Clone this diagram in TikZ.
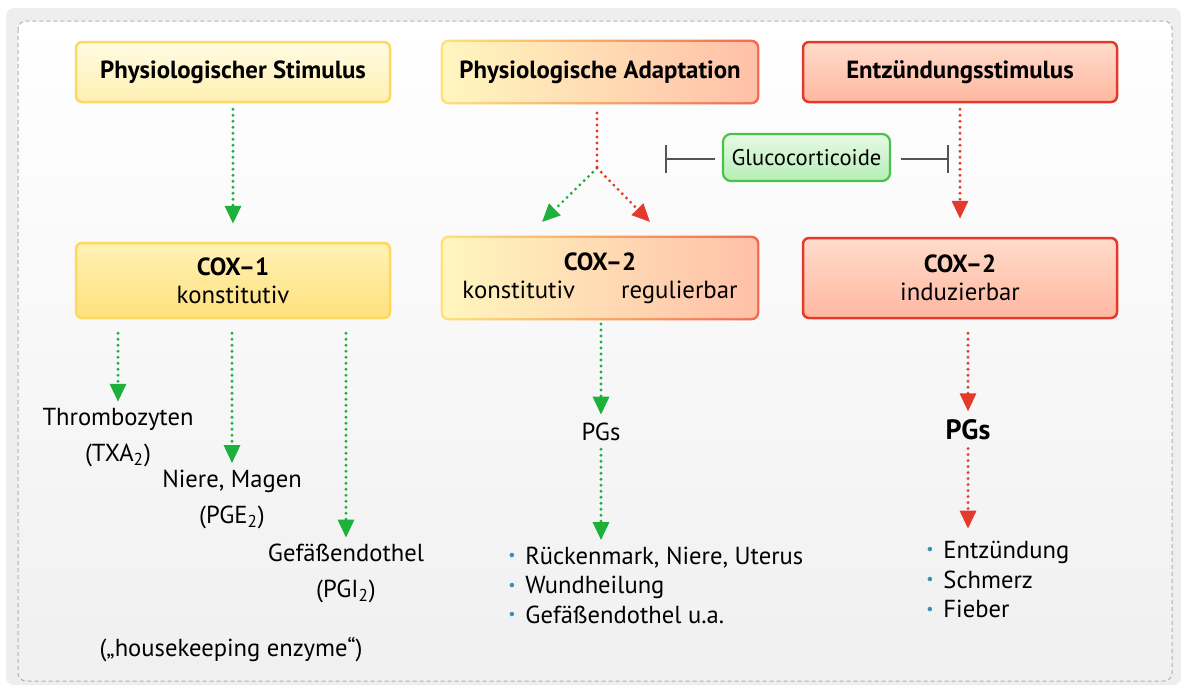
\documentclass[tikz,border=0pt]{standalone}
\usepackage{fontspec}
\setmainfont{PT Sans}
\usetikzlibrary{arrows.meta,calc,positioning}
\pgfdeclarelayer{back}
\pgfdeclarelayer{bg}
\pgfsetlayers{back,bg,main}

\definecolor{rahmen}{HTML}{EEEEEE}
\definecolor{innenunten}{HTML}{F0F0F0}
\definecolor{strich}{HTML}{B0B0B0}
\definecolor{gelbrand}{HTML}{FFD95E}
\definecolor{gelhell}{HTML}{FFFBE2}
\definecolor{gelmittel}{HTML}{FFF0B2}
\definecolor{coxeinsoben}{HTML}{FFF2B6}
\definecolor{coxeinsunten}{HTML}{FFE07C}
\definecolor{rotrand}{HTML}{E5392B}
\definecolor{rothell}{HTML}{FFDCCB}
\definecolor{rotmittel}{HTML}{FFB7A0}
\definecolor{misch links}{HTML}{FFF6BE}
\definecolor{misch rechts}{HTML}{FFC0A8}
\definecolor{mischrand links}{HTML}{FFE27A}
\definecolor{mischrand rechts}{HTML}{F36A4E}
\definecolor{gruenrand}{HTML}{4CC04C}
\definecolor{gruenhell}{HTML}{E6FAE6}
\definecolor{gruenmittel}{HTML}{B5EEB5}
\definecolor{pfeilgruen}{HTML}{1DB03A}
\definecolor{pfeilrot}{HTML}{E23A2C}
\definecolor{hemmgrau}{HTML}{555555}
\definecolor{punktblau}{HTML}{3A8FB5}

\newcommand\punkt{{\color{punktblau}\raisebox{0.14em}{\scalebox{0.65}{\textbullet}}}\hspace{0.4em}}

\tikzset{
  box/.style={rounded corners=3pt, line width=1.25pt, minimum width=157pt,
    minimum height=30pt, align=center, font=\fontsize{12.4}{13.8}\selectfont},
  stimbox/.style={box, draw=gelbrand, top color=gelhell, bottom color=gelmittel},
  entzbox/.style={box, draw=rotrand, top color=rothell, bottom color=rotmittel},
  mischbox/.style={box, outer sep=0pt, left color=misch links, right color=misch rechts},
  coxeins/.style={box, draw=gelbrand, top color=coxeinsoben, bottom color=coxeinsunten},
  gluco/.style={box, line width=1.1pt, draw=gruenrand, top color=gruenhell,
    bottom color=gruenmittel, minimum width=83.5pt, minimum height=23.5pt,
    rounded corners=4pt, font=\fontsize{11.3}{13}\selectfont},
  txt/.style={inner sep=1pt, align=center, font=\fontsize{12.3}{18}\selectfont},
  liste/.style={inner sep=0pt, align=left, anchor=west, font=\fontsize{12.3}{14.8}\selectfont},
  gpunkt/.style={draw=pfeilgruen, line width=1.6pt, line cap=round, dash pattern=on 0pt off 3pt},
  rpunkt/.style={draw=pfeilrot, line width=1.6pt, line cap=round, dash pattern=on 0pt off 3pt},
  gpfeil/.style={gpunkt, -{Triangle[width=8pt,length=9pt,fill=pfeilgruen]}},
  rpfeil/.style={rpunkt, -{Triangle[width=8pt,length=9pt,fill=pfeilrot]}},
  hemmung/.style={draw=hemmgrau, line width=1.2pt, -{Bar[width=14pt]}}
}

\begin{document}
\begin{tikzpicture}[x=0.5pt,y=-0.5pt]
  \useasboundingbox (0,0) rectangle (1181,685);

  % background panels
  \begin{pgfonlayer}{back}
    \fill[rahmen, rounded corners=4pt] (6,8) rectangle (1181,685);
    \shade[top color=white, bottom color=innenunten, draw=strich, line width=0.5pt,
      dash pattern=on 2pt off 1.5pt, rounded corners=4pt] (18,21) rectangle (1172,681);
  \end{pgfonlayer}

  % top row
  \node[stimbox] (stim) at (233,72) {\textbf{Physiologischer Stimulus}};
  \node[mischbox] (adapt) at (600,72) {\textbf{Physiologische Adaptation}};
  \node[entzbox] (entz) at (960,72) {\textbf{Entzündungsstimulus}};

  % enzymes
  \node[coxeins, minimum height=37.5pt] (cox1) at (233,280.5) {\textbf{COX–1}\\konstitutiv};
  \node[mischbox, minimum height=40pt] (cox2a) at (600,278) {\textbf{COX–2}\\konstitutiv\hspace{23pt}regulierbar};
  \node[entzbox, minimum height=40pt] (cox2b) at (960,278) {\textbf{COX–2}\\induzierbar};

  % gradient rims
  \begin{pgfonlayer}{bg}
    \foreach \n in {adapt,cox2a}
      \shade[left color=mischrand links, right color=mischrand rechts, rounded corners=4pt]
        ($(\n.north west)+(-1.2pt,1.2pt)$) rectangle ($(\n.south east)+(1.2pt,-1.2pt)$);
  \end{pgfonlayer}

  \node[gluco] (gc) at (806.5,157.5) {Glucocorticoide};
  \coordinate (hemmL) at (665,159);
  \coordinate (hemmR) at (949,159);
  \draw[hemmung, shorten <=3.5pt] (gc.west |- hemmL) -- (hemmL);
  \draw[hemmung, shorten <=5pt] (gc.east |- hemmR) -- (hemmR);

  % products
  \node[txt] (thr) at (118,437.5) {Thrombozyten\\(TXA\textsubscript{2})};
  \node[txt] (nie) at (232,499) {Niere, Magen\\(PGE\textsubscript{2})};
  \node[txt] (gef) at (346,573.5) {Gefäßendothel\\(PGI\textsubscript{2})};
  \node[txt] (hk) at (231,650) {(„housekeeping enzyme“)};

  \node[txt] (pgsa) at (601,432) {PGs};
  \node[txt, font=\fontsize{14}{16}\selectfont\bfseries] (pgsb) at (968,430) {PGs};

  \node[liste] (lista) at (508,585) {\punkt Rückenmark, Niere, Uterus\\\punkt Wundheilung\\\punkt Gefäßendothel u.a.};
  \node[liste] (listb) at (926,579.5) {\punkt Entzündung\\\punkt Schmerz\\\punkt Fieber};

  % connectors
  \draw[gpfeil, shorten <=3pt, shorten >=9pt] (stim.south -| cox1.north) -- (cox1.north);

  \coordinate (split) at (597,168);
  \coordinate (spitzeL) at (542,222);
  \coordinate (spitzeR) at (650,222);
  \draw[rpunkt, shorten <=5.5pt] (adapt.south -| split) -- (split);
  \draw[gpfeil] (split) -- (spitzeL);
  \draw[rpfeil] (split) -- (spitzeR);

  \draw[rpfeil, shorten <=3pt, shorten >=9pt] (entz.south -| cox2b.north) -- (cox2b.north);

  \draw[gpfeil, shorten <=7pt, shorten >=2pt] (cox1.south -| thr.north) -- (thr.north);
  \draw[gpfeil, shorten <=7pt, shorten >=2pt] (cox1.south -| nie.north) -- (nie.north);
  \draw[gpfeil, shorten <=7pt, shorten >=2pt] (cox1.south -| gef.north) -- (gef.north);

  \draw[gpfeil, shorten <=3pt, shorten >=3pt] (cox2a.south -| pgsa.north) -- (pgsa.north);
  \draw[gpfeil, shorten <=3pt, shorten >=3pt] (pgsa.south) -- (pgsa.south |- lista.north);

  \draw[rpfeil, shorten <=7pt, shorten >=3pt] (cox2b.south -| pgsb.north) -- (pgsb.north);
  \draw[rpfeil, shorten <=3pt, shorten >=6pt] (pgsb.south) -- (pgsb.south |- listb.north);
\end{tikzpicture}
\end{document}
